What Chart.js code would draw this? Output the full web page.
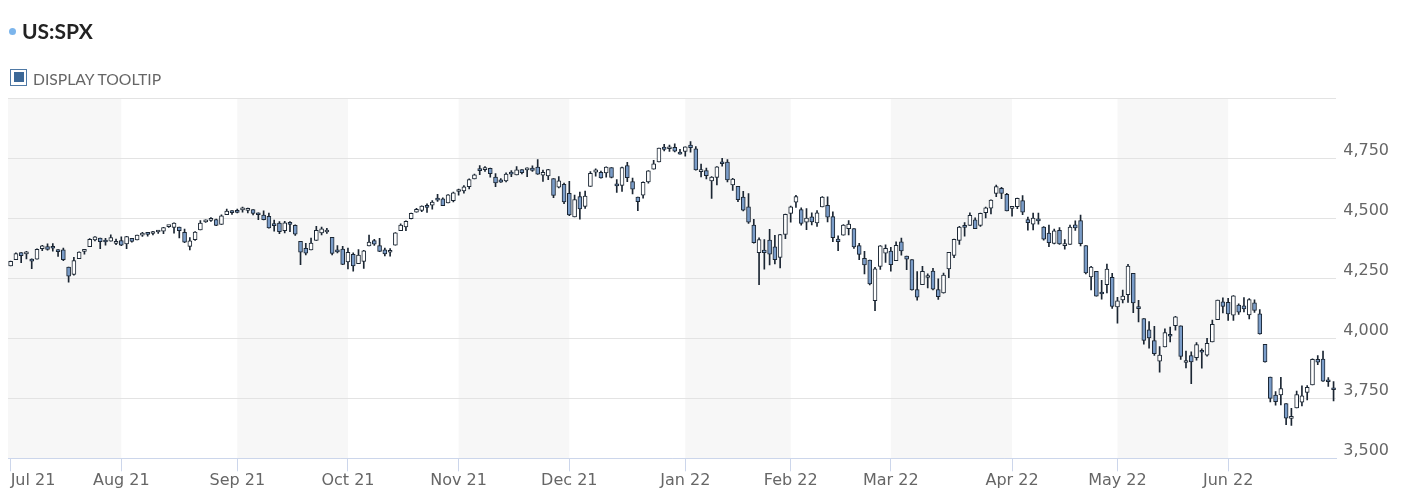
<!DOCTYPE html>
<html>
<head>
<meta charset="utf-8">
<title>US:SPX</title>
<script src="https://cdn.jsdelivr.net/npm/chart.js@4.4.1/dist/chart.umd.min.js"></script>
<style>
  html, body { margin: 0; padding: 0; background: #fff; }
  #wrap { position: relative; width: 1404px; height: 504px; overflow: hidden; }
  #chart { position: absolute; left: 0; top: 0; }
  .dot { position: absolute; left: 9px; top: 27.5px; width: 7px; height: 7px; border-radius: 50%; background: #7cb5ec; }
  .title { position: absolute; left: 22px; top: 19.5px; font: bold 21px/21px Lato, sans-serif; color: #222; }
  .box { position: absolute; left: 10px; top: 68.5px; width: 15px; height: 15px; border: 1.5px solid #4f79a5; background: #fff; }
  .box i { position: absolute; left: 2.5px; top: 2.5px; width: 10px; height: 10px; background: #3c6897; }
  .toggle { position: absolute; left: 33px; top: 70.5px; font: 15.7px/16px Lato, sans-serif; color: #666; }
</style>
</head>
<body>
<div id="wrap">
  <canvas id="chart" width="1404" height="504"></canvas>
  <div class="dot"></div>
  <div class="title">US:SPX</div>
  <div class="box"><i></i></div>
  <div class="toggle">DISPLAY TOOLTIP</div>
</div>
<script>
// S&P 500 daily candles, Jul 2021 - Jun 2022 (one line per month)
const tradingDays = [
  '2021-07-01','2021-07-02','2021-07-06','2021-07-07','2021-07-08','2021-07-09','2021-07-12','2021-07-13','2021-07-14','2021-07-15','2021-07-16','2021-07-19','2021-07-20','2021-07-21','2021-07-22','2021-07-23','2021-07-26','2021-07-27','2021-07-28','2021-07-29','2021-07-30',
  '2021-08-02','2021-08-03','2021-08-04','2021-08-05','2021-08-06','2021-08-09','2021-08-10','2021-08-11','2021-08-12','2021-08-13','2021-08-16','2021-08-17','2021-08-18','2021-08-19','2021-08-20','2021-08-23','2021-08-24','2021-08-25','2021-08-26','2021-08-27','2021-08-30','2021-08-31',
  '2021-09-01','2021-09-02','2021-09-03','2021-09-07','2021-09-08','2021-09-09','2021-09-10','2021-09-13','2021-09-14','2021-09-15','2021-09-16','2021-09-17','2021-09-20','2021-09-21','2021-09-22','2021-09-23','2021-09-24','2021-09-27','2021-09-28','2021-09-29','2021-09-30',
  '2021-10-01','2021-10-04','2021-10-05','2021-10-06','2021-10-07','2021-10-08','2021-10-11','2021-10-12','2021-10-13','2021-10-14','2021-10-15','2021-10-18','2021-10-19','2021-10-20','2021-10-21','2021-10-22','2021-10-25','2021-10-26','2021-10-27','2021-10-28','2021-10-29',
  '2021-11-01','2021-11-02','2021-11-03','2021-11-04','2021-11-05','2021-11-08','2021-11-09','2021-11-10','2021-11-11','2021-11-12','2021-11-15','2021-11-16','2021-11-17','2021-11-18','2021-11-19','2021-11-22','2021-11-23','2021-11-24','2021-11-26','2021-11-29','2021-11-30',
  '2021-12-01','2021-12-02','2021-12-03','2021-12-06','2021-12-07','2021-12-08','2021-12-09','2021-12-10','2021-12-13','2021-12-14','2021-12-15','2021-12-16','2021-12-17','2021-12-20','2021-12-21','2021-12-22','2021-12-23','2021-12-27','2021-12-28','2021-12-29','2021-12-30','2021-12-31',
  '2022-01-03','2022-01-04','2022-01-05','2022-01-06','2022-01-07','2022-01-10','2022-01-11','2022-01-12','2022-01-13','2022-01-14','2022-01-18','2022-01-19','2022-01-20','2022-01-21','2022-01-24','2022-01-25','2022-01-26','2022-01-27','2022-01-28','2022-01-31',
  '2022-02-01','2022-02-02','2022-02-03','2022-02-04','2022-02-07','2022-02-08','2022-02-09','2022-02-10','2022-02-11','2022-02-14','2022-02-15','2022-02-16','2022-02-17','2022-02-18','2022-02-22','2022-02-23','2022-02-24','2022-02-25','2022-02-28',
  '2022-03-01','2022-03-02','2022-03-03','2022-03-04','2022-03-07','2022-03-08','2022-03-09','2022-03-10','2022-03-11','2022-03-14','2022-03-15','2022-03-16','2022-03-17','2022-03-18','2022-03-21','2022-03-22','2022-03-23','2022-03-24','2022-03-25','2022-03-28','2022-03-29','2022-03-30','2022-03-31',
  '2022-04-01','2022-04-04','2022-04-05','2022-04-06','2022-04-07','2022-04-08','2022-04-11','2022-04-12','2022-04-13','2022-04-14','2022-04-18','2022-04-19','2022-04-20','2022-04-21','2022-04-22','2022-04-25','2022-04-26','2022-04-27','2022-04-28','2022-04-29',
  '2022-05-02','2022-05-03','2022-05-04','2022-05-05','2022-05-06','2022-05-09','2022-05-10','2022-05-11','2022-05-12','2022-05-13','2022-05-16','2022-05-17','2022-05-18','2022-05-19','2022-05-20','2022-05-23','2022-05-24','2022-05-25','2022-05-26','2022-05-27','2022-05-31',
  '2022-06-01','2022-06-02','2022-06-03','2022-06-06','2022-06-07','2022-06-08','2022-06-09','2022-06-10','2022-06-13','2022-06-14','2022-06-15','2022-06-16','2022-06-17','2022-06-21','2022-06-22','2022-06-23','2022-06-24','2022-06-27','2022-06-28','2022-06-29','2022-06-30'
]

const openPx = [
  4300.7,4326.6,4356.5,4351.0,4321.1,4329.4,4372.4,4381.1,4380.1,4369.0,4367.4,4296.4,4265.1,4331.1,4361.3,4381.2,4409.6,4416.4,4402.9,4403.6,4395.1,
  4406.9,4392.7,4415.9,4408.9,4429.1,4437.8,4435.8,4442.2,4446.1,4464.8,4461.7,4462.1,4440.9,4382.4,4410.6,4450.3,4484.4,4490.5,4493.8,4474.1,4513.8,4529.8,
  4528.8,4534.5,4532.4,4535.4,4518.1,4513.0,4506.9,4474.8,4479.3,4447.5,4477.1,4469.7,4402.9,4374.5,4367.4,4406.8,4438.0,4442.1,4419.5,4362.4,4370.7,
  4317.2,4348.8,4309.9,4319.6,4383.7,4406.5,4385.4,4368.3,4358.0,4386.8,4447.7,4463.7,4497.3,4524.4,4532.2,4546.1,4553.7,4578.7,4580.2,4562.8,4572.9,
  4610.6,4613.3,4630.7,4662.9,4699.3,4701.5,4707.3,4670.3,4659.4,4655.2,4689.3,4679.4,4701.5,4700.7,4708.4,4712.0,4678.5,4675.8,4664.6,4628.8,4640.3,
  4602.8,4504.7,4589.5,4548.4,4632.0,4690.9,4691.0,4687.6,4710.3,4642.0,4636.5,4719.1,4652.5,4587.9,4595.0,4650.4,4704.0,4734.0,4795.5,4788.6,4794.2,4775.2,
  4778.1,4804.5,4788.0,4693.4,4697.7,4655.3,4669.1,4728.6,4733.6,4638.0,4632.2,4588.0,4547.4,4471.4,4356.3,4366.6,4408.4,4380.6,4336.2,4431.8,
  4519.6,4566.4,4535.4,4482.8,4505.8,4480.0,4547.0,4553.2,4506.3,4412.6,4429.3,4455.8,4456.1,4385.6,4332.7,4324.9,4155.8,4298.4,4354.2,
  4363.1,4322.6,4401.3,4342.1,4327.0,4202.7,4223.1,4252.6,4279.5,4202.8,4188.8,4288.1,4345.1,4407.3,4462.4,4469.1,4493.1,4470.0,4522.9,4541.1,4602.9,4624.2,4599.0,
  4540.3,4548.0,4572.5,4494.2,4474.7,4494.2,4462.6,4437.6,4394.3,4449.1,4385.6,4390.6,4472.3,4489.2,4385.8,4255.3,4278.1,4186.5,4222.6,4253.8,
  4130.6,4159.8,4181.2,4270.4,4128.2,4081.3,4035.2,3990.1,3903.9,3963.9,4013.0,4052.0,4052.0,3899.0,3927.8,3919.4,3942.9,3929.6,3984.6,4077.4,4151.1,
  4149.8,4095.4,4137.6,4134.7,4096.5,4147.1,4101.7,3974.4,3838.2,3763.5,3764.1,3728.2,3665.9,3709.3,3733.9,3774.7,3805.8,3912.3,3913.0,3825.1,3786.0
]

const highPx = [
  4320.7,4355.4,4356.5,4361.9,4330.9,4372.0,4386.7,4392.4,4393.7,4369.0,4375.1,4296.4,4336.8,4359.7,4369.9,4415.2,4422.7,4416.4,4415.5,4429.9,4412.3,
  4422.2,4423.8,4416.2,4429.8,4440.8,4439.4,4445.2,4449.4,4461.8,4468.4,4480.3,4462.1,4454.3,4418.6,4444.4,4489.9,4492.8,4501.7,4495.9,4513.3,4537.4,4531.4,
  4537.1,4545.9,4541.5,4535.4,4521.8,4529.9,4520.5,4492.0,4485.7,4486.9,4485.9,4471.5,4402.9,4394.9,4416.8,4465.4,4463.1,4457.3,4419.5,4385.6,4382.6,
  4375.2,4355.5,4369.2,4365.6,4429.0,4412.0,4415.9,4374.9,4372.9,4439.7,4475.8,4488.8,4520.4,4540.9,4551.4,4559.7,4572.6,4598.5,4584.6,4597.6,4608.1,
  4620.3,4635.2,4663.5,4683.0,4718.5,4714.9,4708.5,4684.9,4664.6,4688.5,4697.4,4714.9,4701.5,4708.8,4717.8,4743.8,4699.4,4702.9,4664.6,4672.9,4646.0,
  4652.9,4595.5,4608.0,4612.6,4694.0,4705.1,4695.3,4713.6,4710.3,4660.5,4712.6,4732.0,4666.7,4587.9,4651.1,4697.7,4740.7,4791.5,4807.0,4804.1,4808.9,4786.8,
  4796.6,4818.6,4797.7,4725.0,4708.0,4673.0,4714.1,4748.8,4744.1,4665.1,4632.2,4611.6,4602.1,4494.5,4417.4,4411.0,4453.2,4428.7,4432.7,4516.9,
  4550.5,4595.3,4542.9,4539.7,4521.9,4531.3,4590.0,4588.9,4526.3,4426.2,4472.8,4489.6,4456.1,4394.8,4362.1,4324.9,4294.7,4385.3,4388.8,
  4378.5,4401.5,4416.8,4342.1,4327.0,4276.9,4299.4,4268.3,4291.0,4247.6,4271.1,4358.0,4412.7,4465.4,4481.8,4522.0,4501.1,4520.6,4546.0,4575.7,4637.3,4627.8,4603.1,
  4548.7,4583.5,4593.5,4503.9,4521.2,4520.4,4464.4,4471.0,4453.9,4460.5,4410.3,4471.0,4488.3,4512.9,4385.8,4299.0,4278.1,4240.7,4308.5,4269.7,
  4169.8,4200.1,4307.7,4270.4,4157.7,4081.3,4068.8,4049.1,3964.6,4038.9,4046.5,4090.7,4052.0,3946.0,3943.4,3981.9,3955.7,3999.3,4075.1,4158.5,4168.3,
  4166.5,4177.5,4142.7,4168.8,4164.9,4160.1,4119.1,3974.4,3838.2,3778.2,3837.1,3728.2,3707.7,3779.7,3801.8,3802.6,3913.7,3928.0,3945.9,3836.5,3819.0
]

const lowPx = [
  4300.7,4326.6,4314.4,4329.8,4289.4,4329.4,4364.0,4366.9,4362.4,4340.7,4322.5,4233.1,4262.1,4331.1,4350.1,4381.2,4405.5,4372.5,4387.0,4403.6,4389.7,
  4384.8,4373.0,4400.2,4408.9,4424.2,4424.7,4430.0,4436.4,4435.5,4460.8,4437.7,4417.8,4397.6,4367.7,4406.8,4450.3,4482.3,4485.7,4468.8,4474.1,4513.8,4515.8,
  4522.0,4524.7,4521.9,4513.0,4493.9,4492.1,4457.7,4445.7,4435.5,4438.4,4443.8,4427.8,4305.9,4347.0,4367.4,4406.8,4430.3,4436.2,4346.3,4355.1,4306.2,
  4288.5,4278.9,4309.9,4290.5,4383.7,4386.2,4360.6,4342.2,4341.2,4386.8,4447.7,4447.5,4496.4,4524.4,4526.9,4524.0,4537.4,4569.2,4551.7,4562.8,4567.6,
  4595.1,4604.0,4621.2,4662.6,4681.3,4694.4,4670.9,4630.9,4648.3,4650.4,4672.9,4679.4,4684.4,4672.8,4694.2,4682.2,4652.7,4659.9,4585.4,4625.3,4560.0,
  4510.3,4504.7,4495.1,4540.5,4632.0,4674.5,4666.0,4670.2,4667.6,4606.5,4611.2,4651.9,4600.2,4531.1,4583.2,4645.5,4704.0,4734.0,4780.0,4778.1,4775.3,4765.8,
  4758.2,4774.3,4699.4,4671.3,4662.7,4582.2,4638.3,4716.1,4650.3,4614.8,4568.7,4530.2,4478.0,4395.3,4222.6,4287.1,4304.8,4309.5,4292.5,4414.0,
  4483.5,4544.3,4470.4,4451.5,4471.5,4465.4,4547.0,4484.3,4401.4,4364.8,4429.3,4429.7,4373.8,4327.2,4267.1,4221.5,4114.7,4286.8,4315.1,
  4279.5,4322.6,4345.6,4285.0,4199.9,4157.9,4223.1,4209.8,4200.5,4161.7,4187.9,4252.0,4335.7,4390.6,4424.3,4469.1,4455.8,4465.2,4501.1,4517.7,4589.7,4581.3,4530.4,
  4507.6,4539.2,4514.2,4450.0,4450.3,4474.6,4408.4,4381.3,4392.7,4390.8,4370.3,4390.6,4448.8,4384.5,4267.6,4200.8,4175.0,4162.9,4188.6,4124.3,
  4062.5,4147.1,4148.9,4106.0,4067.9,3975.5,3958.2,3928.8,3858.9,3963.9,3984.0,4033.9,3911.9,3876.6,3810.3,3909.0,3875.1,3925.0,3984.6,4077.4,4104.9,
  4073.9,4074.4,4098.7,4109.2,4080.2,4107.2,4017.2,3900.2,3734.3,3721.6,3722.3,3639.8,3636.9,3709.3,3717.7,3743.5,3805.8,3889.7,3820.1,3799.0,3738.7
]

const closePx = [
  4319.9,4352.3,4343.5,4358.1,4320.8,4369.6,4384.6,4369.2,4374.3,4360.0,4327.2,4258.5,4323.1,4358.7,4367.5,4411.8,4422.3,4401.5,4400.6,4419.2,4395.3,
  4387.2,4423.2,4402.7,4429.1,4436.5,4432.4,4436.8,4447.7,4460.8,4468.0,4479.7,4448.1,4400.3,4405.8,4441.7,4479.5,4486.2,4496.2,4470.0,4509.4,4528.8,4522.7,
  4524.1,4537.0,4535.4,4520.0,4514.1,4493.3,4458.6,4468.7,4443.1,4480.7,4473.8,4433.0,4357.7,4354.2,4395.6,4449.0,4455.5,4443.1,4352.6,4359.5,4307.5,
  4357.0,4300.5,4345.7,4363.6,4399.8,4391.3,4361.2,4350.7,4363.8,4438.3,4471.4,4486.5,4519.6,4536.2,4549.8,4544.9,4566.5,4574.8,4551.7,4596.4,4605.4,
  4613.7,4630.7,4660.6,4680.1,4697.5,4701.7,4685.3,4646.7,4649.3,4682.9,4682.8,4700.9,4688.7,4704.5,4698.0,4682.9,4690.7,4701.5,4594.6,4655.3,4567.0,
  4513.0,4577.1,4538.4,4591.7,4686.8,4701.2,4667.5,4712.0,4669.0,4634.1,4709.9,4668.7,4620.6,4568.0,4649.2,4696.6,4725.8,4791.2,4786.4,4793.1,4778.7,4766.2,
  4796.6,4793.5,4700.6,4696.1,4677.0,4670.3,4713.1,4726.4,4659.0,4662.9,4577.1,4532.8,4482.7,4397.9,4410.1,4356.5,4349.9,4326.5,4431.9,4515.6,
  4546.5,4589.4,4477.4,4500.5,4483.9,4521.5,4587.2,4504.1,4418.6,4401.7,4471.1,4475.0,4380.3,4348.9,4304.8,4225.5,4288.7,4384.7,4373.9,
  4306.3,4386.5,4363.5,4328.9,4201.1,4170.7,4277.9,4259.5,4204.3,4173.1,4262.5,4357.9,4411.7,4463.1,4461.2,4511.6,4456.2,4520.2,4543.1,4575.5,4631.6,4602.5,4530.4,
  4545.9,4582.6,4525.1,4481.2,4500.2,4488.3,4412.5,4397.5,4446.6,4392.6,4391.7,4462.2,4459.5,4393.7,4271.8,4296.1,4175.2,4184.0,4287.5,4131.9,
  4155.4,4175.5,4300.2,4146.9,4123.3,3991.2,4001.1,3935.2,3930.1,4023.9,4008.0,4088.9,3923.7,3900.8,3901.4,3973.8,3941.5,3978.7,4057.8,4158.2,4132.2,
  4101.2,4176.8,4108.5,4121.4,4160.7,4115.8,4017.8,3900.9,3749.6,3735.5,3790.0,3666.8,3674.8,3764.8,3759.9,3795.7,3911.7,3900.1,3821.6,3818.8,3785.4
]

const monthNames = ['Jan', 'Feb', 'Mar', 'Apr', 'May', 'Jun', 'Jul', 'Aug', 'Sep', 'Oct', 'Nov', 'Dec']

// first trading day of every month, plus the last day as an unlabelled end tick
const monthStarts = []
tradingDays.forEach((d, i) => {
  if (i === 0 || d.slice(0, 7) !== tradingDays[i - 1].slice(0, 7)) monthStarts.push(i)
})
const tickIdx = monthStarts.concat([tradingDays.length - 1])

const monthLabel = (i) => {
  if (!monthStarts.includes(i)) return ''
  const d = tradingDays[i]
  return monthNames[+d.slice(5, 7) - 1] + ' ' + d.slice(2, 4)
}

const candleLine = '#1b2633'
const downFill = '#7a9cc8'
const upFill = '#ffffff'
const axisFont = {family: 'DejaVu Sans', size: 16}

// alternating shaded month bands behind the candles
const monthBands = {
  id: 'monthBands',
  beforeDraw(chart) {
    const {ctx, chartArea: a, scales: {x}} = chart
    ctx.save()
    ctx.fillStyle = '#f7f7f7'
    monthStarts.forEach((s, k) => {
      if (k % 2) return
      const x0 = k === 0 ? a.left : x.getPixelForValue(s)
      const x1 = k + 1 < monthStarts.length ? x.getPixelForValue(monthStarts[k + 1]) : a.right
      ctx.fillRect(x0, a.top, x1 - x0, a.bottom - a.top)
    })
    ctx.restore()
  }
}

new Chart(document.getElementById('chart'), {
  type: 'bar',
  data: {
    labels: tradingDays,
    datasets: [{
      label: 'body',
      data: openPx.map((o, i) => [o, closePx[i]]),
      backgroundColor: closePx.map((c, i) => (c >= openPx[i] ? upFill : downFill)),
      borderColor: candleLine,
      borderWidth: 1,
      borderSkipped: false,
      barThickness: 4,
      minBarLength: 2,
      grouped: false,
      order: 0,
    }, {
      label: 'wick',
      data: lowPx.map((l, i) => [l, highPx[i]]),
      backgroundColor: candleLine,
      borderWidth: 0,
      barThickness: 1,
      grouped: false,
      order: 1,
    }],
  },
  options: {
    responsive: false,
    animation: false,
    layout: {padding: {left: 8, right: 8, top: 98, bottom: 13.5}},
    plugins: {legend: {display: false}, tooltip: {enabled: false}},
    scales: {
      x: {
        type: 'category',
        offset: true,
        afterBuildTicks: (s) => { s.ticks = s.ticks.filter((t) => tickIdx.includes(t.value)) },
        grid: {
          offset: false,
          drawOnChartArea: false,
          drawTicks: true,
          tickLength: 13,
          color: (c) => (c.tick && c.tick.label ? '#ccd6eb' : 'rgba(0,0,0,0)'),
        },
        border: {color: '#ccd6eb', width: 1},
        ticks: {
          autoSkip: false,
          maxRotation: 0,
          align: 'inner',
          padding: 0,
          color: '#666666',
          font: axisFont,
          callback: (v) => monthLabel(v),
        },
      },
      y: {
        position: 'right',
        min: 3500,
        max: 5000,
        grid: {color: '#e3e3e3', drawTicks: false},
        border: {display: false},
        ticks: {
          stepSize: 250,
          padding: 7,
          labelOffset: -7,
          color: '#666666',
          font: axisFont,
          callback: (v) => (v >= 5000 ? '' : v.toLocaleString('en-US')),
        },
      },
    },
  },
  plugins: [monthBands],
})
</script>
</body>
</html>
